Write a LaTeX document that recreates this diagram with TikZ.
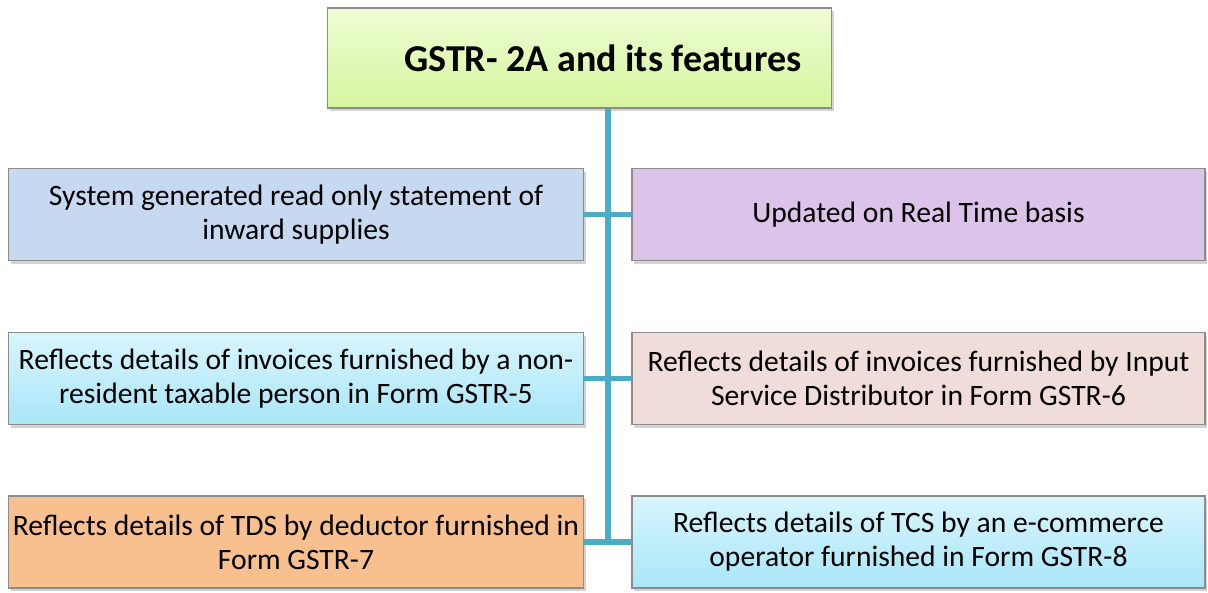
\documentclass[tikz,border=0pt]{standalone}
\usepackage{fontspec}
\setmainfont{Carlito}
\usetikzlibrary{shadows,positioning}
\definecolor{conn}{HTML}{4BACC6}
\definecolor{bordc}{HTML}{8C8C8C}
\definecolor{titA}{HTML}{EEFDD4}
\definecolor{titB}{HTML}{D6F59E}
\definecolor{blueA}{HTML}{C6D9F1}
\definecolor{purp}{HTML}{DCC3EA}
\definecolor{cyanA}{HTML}{D8F5FD}
\definecolor{cyanB}{HTML}{A9E6F8}
\definecolor{pink}{HTML}{F0DCD9}
\definecolor{orng}{HTML}{F8C08F}
\tikzset{
  x=1pt,y=-1pt,
  box/.style={draw=bordc, line width=1.2pt, minimum width=575pt, minimum height=92pt,
    align=center, font=\fontsize{29.6}{34}\selectfont, inner sep=0pt,
    drop shadow={shadow xshift=2pt, shadow yshift=-3pt, opacity=0.35}},
  titlebox/.style={draw=bordc, line width=1.2pt, minimum width=504pt, minimum height=100pt,
    align=center, font=\fontsize{38}{42}\selectfont\bfseries, inner sep=0pt,
    top color=titA, bottom color=titB,
    drop shadow={shadow xshift=2pt, shadow yshift=-3pt, opacity=0.35}},
  link/.style={draw=conn, line width=5.5pt},
}
\begin{document}
\begin{tikzpicture}
\useasboundingbox (0,0) rectangle (1208,592);
\node[titlebox] (title) at (579.5,58) {\hspace*{47pt}GSTR- 2A and its features};
\node[box, fill=blueA] (l1) at (296,214.5) {System generated read only statement of\\inward supplies};
\node[box, fill=purp, minimum width=573pt] (r1) at (918.5,214.5) {Updated on Real Time basis};
\node[box, top color=cyanA, bottom color=cyanB] (l2) at (296,378.5) {Reflects details of invoices furnished by a non-\\resident taxable person in Form GSTR-5};
\node[box, fill=pink, minimum width=573pt] (r2) at (918.5,378.5) {Reflects details of invoices furnished by Input\\Service Distributor in Form GSTR-6};
\node[box, fill=orng] (l3) at (296,542) {Reflects details of TDS by deductor furnished in\\Form GSTR-7};
\node[box, top color=cyanA, bottom color=cyanB, minimum width=573pt] (r3) at (918.5,542) {Reflects details of TCS by an e-commerce\\operator furnished in Form GSTR-8};
\coordinate (t1) at (608,214.5);
\coordinate (t2) at (608,378.5);
\coordinate (t3) at (608,542);
\draw[link] (l1.east) -- (r1.west);
\draw[link] (l2.east) -- (r2.west);
\draw[link] (l3.east) -- (r3.west);
\draw[link] (title.south -| t1) -- ([yshift=-2.75pt]t3);
\end{tikzpicture}
\end{document}
